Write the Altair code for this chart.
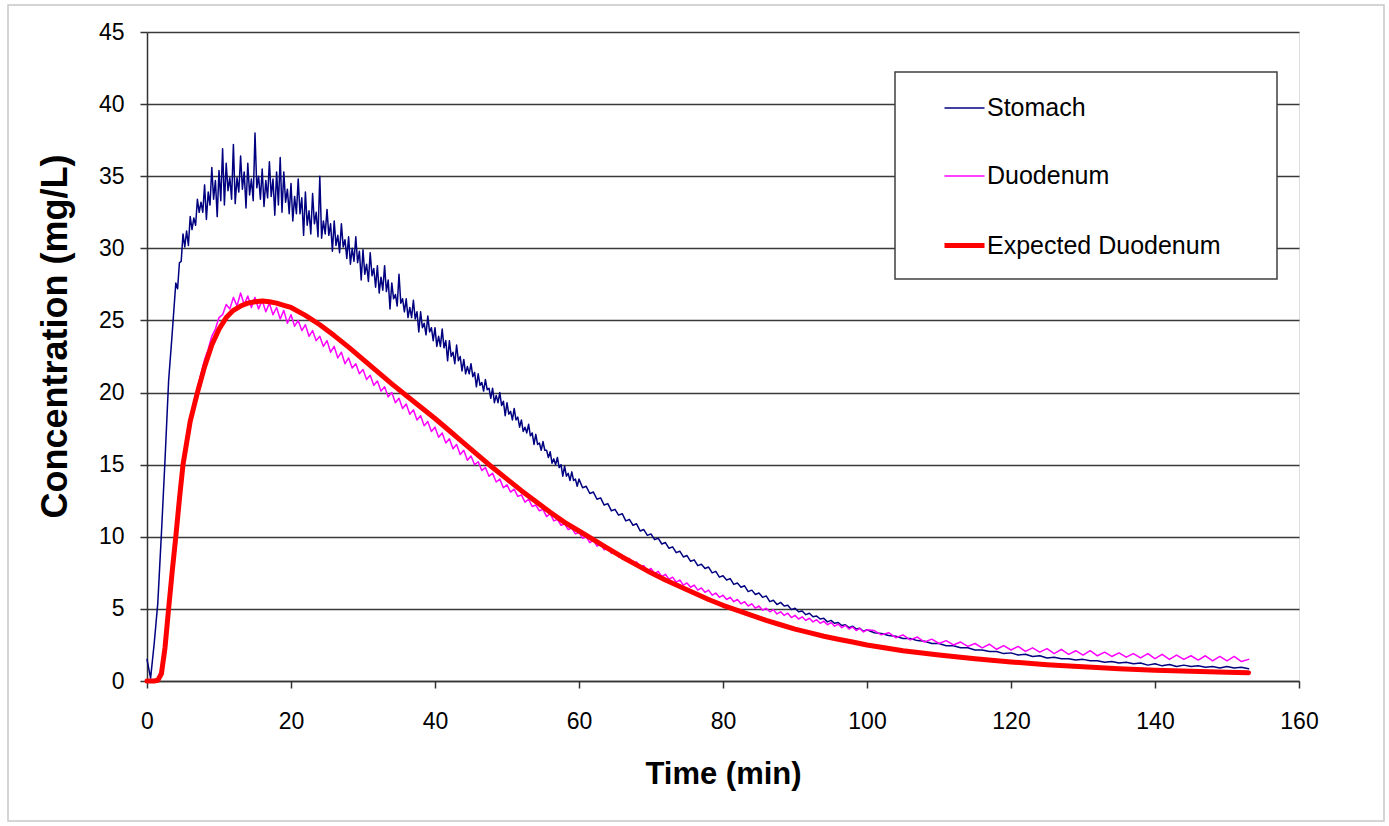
import altair as alt
import pandas as pd

# ---------------- data ----------------
series_names = ["Stomach", "Duodenum", "Expected Duodenum"]
series_colors = ["#000080", "#FF00FF", "#FF0000"]
series_widths = [1.5, 1.5, 5]

# sample times (min)
stomach_t = ([i / 2 for i in range(8)] + [4 + i / 4 for i in range(225)]
             + [60.5 + i / 2 for i in range(80)] + list(range(101, 154)))
duodenum_t = [i / 2 for i in range(201)] + list(range(101, 154))

stomach_y = [
    # 0 - 3.5 (every 0.5 min)
    1.5, 0.2, 2.6, 5.4, 10.2, 15.3, 20.8, 24.1,
    # 4 - 60 (every 0.25 min)
    27.6, 27.2, 29.0, 29.1, 31.0, 30.1, 31.2, 30.2, 32.2, 31.3, 32.1, 31.6,
    33.4, 32.5, 33.2, 32.5,
    34.4, 32.0, 33.9, 33.0, 35.6, 33.4, 34.7, 32.2, 35.4, 33.3, 36.9, 33.0,
    35.9, 34.0, 34.9, 33.4, 37.2, 33.1, 34.9, 33.9, 36.4, 34.1, 35.3, 32.8,
    35.9, 33.7, 34.8, 33.3, 38.0, 34.2, 35.0, 33.4, 35.5, 32.9, 34.7, 33.5,
    36.0, 33.6, 34.8, 32.3, 35.3, 33.0, 36.3, 32.5, 35.3, 33.2, 34.1, 32.4,
    34.5, 31.9, 33.6, 32.4, 34.8, 32.4, 33.5, 30.9, 33.9, 31.6, 32.6, 31.0,
    33.8, 31.7, 32.5, 30.8,
    35.0, 30.7, 31.9, 31.0, 32.7, 30.9, 31.7, 29.8, 31.9, 30.2, 30.9, 29.7,
    31.7, 30.1, 30.6, 29.3, 30.8, 28.9, 30.0, 29.1, 30.8, 29.0, 29.8, 27.8,
    29.9, 28.2, 28.9, 27.7, 29.7, 28.1, 28.6, 27.3, 28.8, 26.9, 28.0, 27.1,
    28.8, 27.0, 27.8, 25.8,
    27.6, 26.5, 26.8, 26.0, 28.2, 26.2, 26.5, 25.6, 26.5, 25.2, 25.9, 25.2,
    26.4, 25.1, 25.6, 24.2, 25.6, 24.5, 24.8, 24.0, 25.3, 24.2, 24.5, 23.6,
    24.5, 23.2, 23.9, 23.2, 24.4, 23.1, 23.6, 22.2, 23.6, 22.5, 22.8, 22.0,
    23.3, 22.2, 22.5, 21.5,
    22.3, 21.3, 21.8, 21.3, 22.0, 21.1, 21.4, 20.4, 21.3, 20.5, 20.7, 20.1,
    20.9, 20.2, 20.3, 19.6, 20.3, 19.3, 19.8, 19.3, 20.0, 19.1, 19.4, 18.4,
    19.3, 18.5, 18.7, 18.1, 18.9, 18.1, 18.3, 17.6,
    18.1, 17.3, 17.6, 17.2, 17.8, 17.0, 17.2, 16.4, 17.1, 16.4, 16.5, 16.0,
    16.6, 16.0, 16.0, 15.5, 15.9, 15.1, 15.4, 15.0, 15.5, 14.8, 15.0, 14.2,
    14.9, 14.2, 14.4, 13.9, 14.5, 13.9, 14.0, 13.5,
    14.0,
    # 60.5 - 100 (every 0.5 min)
    13.4, 13.5, 13.0, 13.1, 12.6, 12.7, 12.2, 12.3, 11.8,
    11.9, 11.5, 11.6, 11.1, 11.2, 10.8, 10.9, 10.4, 10.5, 10.1,
    10.2, 9.8, 9.9, 9.5, 9.6, 9.2, 9.3, 8.9, 9.0, 8.6,
    8.7, 8.3, 8.4, 8.0, 8.1, 7.8, 7.9, 7.5, 7.6, 7.2,
    7.3, 7.0, 7.1, 6.7, 6.8, 6.5, 6.6, 6.2, 6.3, 6.0,
    6.1, 5.8, 5.9, 5.5, 5.6, 5.3, 5.45, 5.2, 5.25, 4.95,
    5.05, 4.8, 4.85, 4.6, 4.7, 4.45, 4.5, 4.3, 4.35, 4.1,
    4.2, 4.0, 4.05, 3.85, 3.9, 3.7, 3.8, 3.6, 3.65, 3.45,
    3.55,
    # 101 - 153 (every minute)
    3.35, 3.3, 3.15, 3.1, 2.95, 2.95, 2.8, 2.75, 2.6, 2.6,
    2.45, 2.45, 2.3, 2.3, 2.15, 2.15, 2.05, 2.05, 1.9, 1.95,
    1.8, 1.85, 1.7, 1.75, 1.6, 1.65, 1.55, 1.55, 1.45, 1.5,
    1.4, 1.4, 1.3, 1.35, 1.25, 1.3, 1.2, 1.25, 1.1, 1.2,
    1.05, 1.15, 1.0, 1.1, 1.0, 1.05, 0.95, 1.0, 0.9, 1.0,
    0.9, 0.95, 0.85,
]

duodenum_y = [
    0, 0, 0, 0.1, 0.9, 2.6, 5.1, 7.7, 10.1, 12.6,
    15.0, 16.6, 18.1, 19.2, 20.3, 21.3, 22.3, 23.0, 23.9, 24.4,
    25.2, 25.4, 26.1, 25.8, 26.6, 26.0, 26.9, 26.1, 26.7, 25.9,
    26.6, 25.8, 26.4, 25.6, 26.2, 25.4, 25.9, 25.1, 25.7, 24.8,
    25.4, 24.6, 25.0, 24.3, 24.7, 23.9, 24.3, 23.6, 23.9, 23.2,
    23.6, 22.8, 23.2, 22.4, 22.8, 22.0, 22.4, 21.7, 22.0, 21.3,
    21.6, 20.9, 21.2, 20.5, 20.8, 20.1, 20.4, 19.7, 20.0, 19.3,
    19.6, 18.9, 19.2, 18.5, 18.8, 18.1, 18.4, 17.7, 18.0, 17.3,
    17.6, 16.9, 17.2, 16.5, 16.8, 16.1, 16.4, 15.7, 16.0, 15.3,
    15.6, 15.0, 15.2, 14.6, 14.8, 14.2, 14.4, 13.8, 14.0, 13.4,
    13.6, 13.1, 13.3, 12.8, 12.9, 12.4, 12.6, 12.1, 12.2, 11.8,
    11.9, 11.4, 11.6, 11.1, 11.2, 10.8, 10.9, 10.5, 10.6, 10.2,
    10.3, 9.9, 10.0, 9.6, 9.75, 9.35, 9.5, 9.1, 9.2, 8.85,
    9.0, 8.6, 8.75, 8.35, 8.5, 8.1, 8.25, 7.9, 8.0, 7.65,
    7.8, 7.45, 7.6, 7.25, 7.4, 7.05, 7.2, 6.85, 7.0, 6.65,
    6.8, 6.5, 6.65, 6.3, 6.45, 6.15, 6.3, 5.95, 6.1, 5.8,
    5.95, 5.65, 5.8, 5.5, 5.65, 5.35, 5.5, 5.2, 5.35, 5.05,
    5.2, 4.9, 5.05, 4.8, 4.95, 4.65, 4.8, 4.55, 4.7, 4.4,
    4.55, 4.3, 4.45, 4.2, 4.35, 4.1, 4.25, 4.0, 4.15, 3.9,
    4.05, 3.8, 3.95, 3.7, 3.85, 3.6, 3.75, 3.5, 3.65, 3.4,
    3.55,
    3.5, 3.2, 3.35, 3.0, 3.2, 2.85, 3.05, 2.7, 2.9, 2.6,
    2.8, 2.5, 2.7, 2.4, 2.6, 2.3, 2.55, 2.2, 2.45, 2.15,
    2.4, 2.05, 2.3, 2.0, 2.25, 1.9, 2.2, 1.85, 2.1, 1.8,
    2.1, 1.75, 2.0, 1.7, 1.95, 1.65, 1.9, 1.6, 1.9, 1.55,
    1.85, 1.5, 1.8, 1.5, 1.75, 1.45, 1.75, 1.4, 1.7, 1.4,
    1.7, 1.35, 1.5,
]

expected_t = [0, 1, 1.5, 2, 2.5, 3, 3.5, 4, 4.5, 5, 6, 7, 8, 9, 10, 11, 12, 13,
              14, 15, 16, 17, 18, 19, 20, 22, 24, 26, 28, 30, 32, 34, 36, 38,
              40, 42, 44, 46, 48, 50, 52, 54, 56, 58, 60, 62, 64, 66, 68, 70,
              72, 74, 76, 78, 80, 82, 84, 86, 88, 90, 92, 94, 96, 98, 100, 105,
              110, 115, 120, 125, 130, 135, 140, 145, 150, 153]
expected_y = [0, 0, 0.05, 0.5, 2.3, 5.0, 7.6, 10.0, 12.6, 15.0, 18.0, 20.0,
              21.8, 23.3, 24.4, 25.2, 25.7, 26.0, 26.2, 26.3, 26.35, 26.3,
              26.2, 26.05, 25.9, 25.35, 24.7, 23.95, 23.15, 22.3, 21.45, 20.6,
              19.8, 19.0, 18.2, 17.35, 16.5, 15.65, 14.8, 14.0, 13.2, 12.45,
              11.7, 11.0, 10.4, 9.8, 9.2, 8.6, 8.05, 7.5, 7.0, 6.55, 6.1, 5.65,
              5.25, 4.9, 4.55, 4.2, 3.9, 3.6, 3.35, 3.1, 2.9, 2.7, 2.5, 2.1,
              1.8, 1.55, 1.32, 1.13, 0.98, 0.85, 0.75, 0.67, 0.6, 0.57]

x_ticks = [0, 20, 40, 60, 80, 100, 120, 140, 160]
y_ticks = [0, 5, 10, 15, 20, 25, 30, 35, 40, 45]

# ---------------- tables ----------------
df_st = pd.DataFrame({"t": stomach_t, "c": stomach_y, "series": series_names[0]})
df_du = pd.DataFrame({"t": duodenum_t, "c": duodenum_y, "series": series_names[1]})
df_ex = pd.DataFrame({"t": expected_t, "c": expected_y, "series": series_names[2]})

FONT = "Liberation Sans"

x_enc = alt.X(
    "t:Q",
    scale=alt.Scale(domain=[0, 160], nice=False, zero=False),
    axis=alt.Axis(
        values=x_ticks, grid=False, title="Time (min)", labelFlush=False,
        tickSize=7, tickWidth=1.5, tickColor="#333333",
        domainColor="#333333", domainWidth=1.5,
        labelFontSize=23, labelColor="black", labelPadding=22, labelFont=FONT,
        titleFontSize=31, titleFontWeight="bold", titleColor="black",
        titleFont=FONT, titleY=78,
    ),
)
y_enc = alt.Y(
    "c:Q",
    scale=alt.Scale(domain=[0, 45], nice=False),
    axis=alt.Axis(
        values=y_ticks, grid=True, gridColor="#3a3a3a", gridWidth=1.5,
        title="Concentration (mg/L)", labelFlush=False,
        tickSize=7, tickWidth=1.5, tickColor="#333333",
        domainColor="#333333", domainWidth=1.5,
        labelFontSize=23, labelColor="black", labelPadding=16, labelFont=FONT,
        titleFontSize=36, titleFontWeight="bold", titleColor="black",
        titleFont=FONT, titleX=-73, titleY=304,
    ),
)
legend_cfg = dict(
    title=None, orient="none", legendX=795, legendY=55,
    symbolType="stroke", symbolSize=1600, padding=0,
    labelFontSize=25, labelFont=FONT, labelColor="black", labelLimit=0,
    labelOffset=0, rowPadding=34,
)
color_enc = alt.Color(
    "series:N",
    scale=alt.Scale(domain=series_names, range=series_colors),
    legend=alt.Legend(**legend_cfg),
)
width_enc = alt.StrokeWidth(
    "series:N",
    scale=alt.Scale(type="ordinal", domain=series_names, range=series_widths),
    legend=alt.Legend(**legend_cfg),
)

frame_df = pd.DataFrame({"k": [0]})
outer_frame = alt.Chart(frame_df).mark_rect(
    fill="white", fillOpacity=0, stroke="#c8c8c8", strokeWidth=1.5
).encode(
    x=alt.value(-139), x2=alt.value(1237), y=alt.value(-27), y2=alt.value(789)
)
legend_box = alt.Chart(frame_df).mark_rect(
    fill="white", stroke="#404040", strokeWidth=1.5
).encode(
    x=alt.value(748), x2=alt.value(1130), y=alt.value(40), y2=alt.value(247)
)

def series_layer(df):
    return alt.Chart(df).mark_line(strokeJoin="round", strokeCap="round").encode(
        x=x_enc, y=y_enc, color=color_enc, strokeWidth=width_enc,
        order=alt.Order("t:Q"),
    )

chart = alt.layer(
    outer_frame,
    legend_box,
    series_layer(df_st),
    series_layer(df_du),
    series_layer(df_ex),
).properties(
    width=1152, height=649,
    autosize=alt.AutoSizeParams(type="none"),
    padding={"left": 147, "top": 32, "right": 90, "bottom": 145},
    background="white",
).configure_view(
    stroke="#888888", strokeWidth=1.5
).configure(
    font=FONT
)

chart.save("out.html", embed_options={"renderer": "svg", "actions": False})
